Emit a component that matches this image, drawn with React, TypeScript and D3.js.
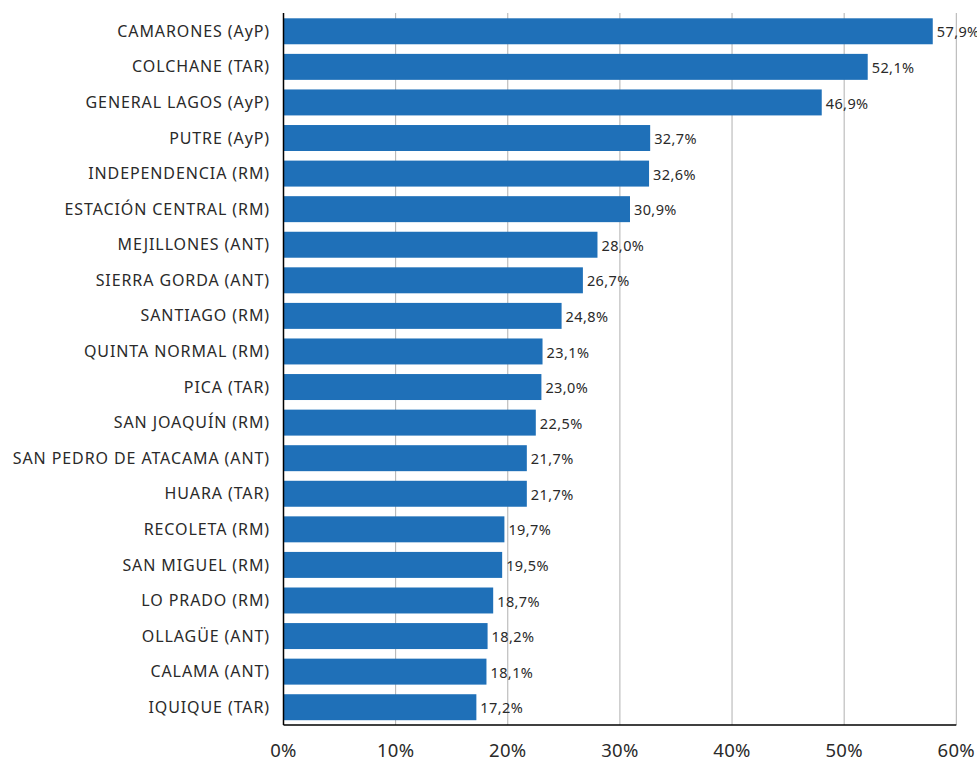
import React from "react";
import * as d3 from "d3";

const categories = [
  "CAMARONES (AyP)",
  "COLCHANE (TAR)",
  "GENERAL LAGOS (AyP)",
  "PUTRE (AyP)",
  "INDEPENDENCIA (RM)",
  "ESTACIÓN CENTRAL (RM)",
  "MEJILLONES (ANT)",
  "SIERRA GORDA (ANT)",
  "SANTIAGO (RM)",
  "QUINTA NORMAL (RM)",
  "PICA (TAR)",
  "SAN JOAQUÍN (RM)",
  "SAN PEDRO DE ATACAMA (ANT)",
  "HUARA (TAR)",
  "RECOLETA (RM)",
  "SAN MIGUEL (RM)",
  "LO PRADO (RM)",
  "OLLAGÜE (ANT)",
  "CALAMA (ANT)",
  "IQUIQUE (TAR)",
];

// bar lengths as drawn in the picture
const values = [57.9, 52.1, 48.0, 32.7, 32.6, 30.9, 28.0, 26.7, 24.8, 23.1, 23.0, 22.5, 21.7, 21.7, 19.7, 19.5, 18.7, 18.2, 18.1, 17.2];

// value labels as printed
const valueLabels = ["57,9%", "52,1%", "46,9%", "32,7%", "32,6%", "30,9%", "28,0%", "26,7%", "24,8%", "23,1%", "23,0%", "22,5%", "21,7%", "21,7%", "19,7%", "19,5%", "18,7%", "18,2%", "18,1%", "17,2%"];

const xTicks = [0, 10, 20, 30, 40, 50, 60];

const W = 977;
const H = 761;
const FONT = "'Noto Sans', 'Open Sans', sans-serif";

export default function App() {
  const x = d3.scaleLinear().domain([0, 60]).range([283.5, 956.3]);
  const y = d3
    .scaleBand<string>()
    .domain(categories)
    .range([13.5, 725])
    .paddingInner(0.27)
    .paddingOuter(0.135);

  return (
    <svg
      width={W}
      height={H}
      style={{ position: "absolute", left: 0, top: 0, background: "#fff" }}
      fontFamily={FONT}
    >
      {xTicks.slice(1).map((t) => (
        <line key={t} x1={x(t)} x2={x(t)} y1={13} y2={725} stroke="#b0b0b0" strokeWidth={1} />
      ))}
      {categories.map((c, i) => (
        <g key={c}>
          <rect
            x={x(0)}
            y={y(c)!}
            width={x(values[i]) - x(0)}
            height={y.bandwidth()}
            fill="#1f70b8"
          />
          <text
            x={270}
            y={y(c)! + y.bandwidth() / 2}
            dy="0.35em"
            textAnchor="end"
            fontSize={16}
            letterSpacing={0.9}
            fill="#2a2a2a"
          >
            {c}
          </text>
          <text
            x={x(values[i]) + 4}
            y={y(c)! + y.bandwidth() / 2 + 1}
            dy="0.35em"
            fontSize={14.5}
            letterSpacing={0.4}
            fill="#2a2a2a"
          >
            {valueLabels[i]}
          </text>
        </g>
      ))}
      <line x1={x(0)} x2={x(0)} y1={13} y2={725} stroke="#000" strokeWidth={1.5} />
      <line x1={x(0)} x2={x(60)} y1={725} y2={725} stroke="#000" strokeWidth={1.5} />
      {xTicks.map((t) => (
        <text key={t} x={x(t)} y={751} dy="0.35em" textAnchor="middle" fontSize={18.5} letterSpacing={0.3} fill="#2a2a2a">
          {t + "%"}
        </text>
      ))}
    </svg>
  );
}
